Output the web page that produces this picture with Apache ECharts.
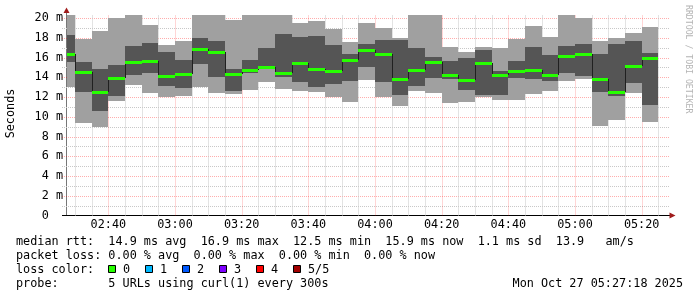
<!DOCTYPE html>
<html><head><meta charset="utf-8">
<script src="https://cdn.jsdelivr.net/npm/echarts@6/dist/echarts.min.js"></script>
<style>html,body{margin:0;padding:0;background:#fff}#c{width:697px;height:297px}</style>
</head><body><div id="c"></div>
<script>
// ---- data (ms), one entry per 5-minute step; slotEnd = end time of the step
const slotEnd = ['02:30','02:35','02:40','02:45','02:50','02:55','03:00','03:05','03:10','03:15',
  '03:20','03:25','03:30','03:35','03:40','03:45','03:50','03:55','04:00','04:05',
  '04:10','04:15','04:20','04:25','04:30','04:35','04:40','04:45','04:50','04:55',
  '05:00','05:05','05:10','05:15','05:20','05:25'];
const pingMax = [20.3,17.87,18.68,20.0,20.3,19.3,17.27,17.7,20.3,20.3,
  19.8,20.3,20.3,20.3,19.5,19.7,18.9,17.57,19.47,19.0,
  18.0,20.3,20.3,17.1,16.6,17.1,17.0,17.87,19.14,18.08,
  20.3,20.0,17.67,17.97,18.48,19.1];
const pingUpper = [18.28,15.58,14.84,15.24,17.16,17.5,16.6,15.75,17.97,17.67,
  14.82,15.75,16.95,18.38,18.07,18.19,17.27,16.35,17.37,17.77,
  17.8,17.0,16.08,15.64,15.98,16.76,14.62,15.65,17.06,16.25,
  17.16,17.37,16.35,17.37,17.67,16.46];
const pingMedian = [16.4,14.56,12.5,13.92,15.58,15.68,14.13,14.33,16.9,16.6,
  14.35,14.74,15.06,14.4,15.41,14.84,14.6,15.7,16.76,16.32,
  13.87,14.7,15.51,14.23,13.72,15.48,14.26,14.6,14.7,14.2,
  16.12,16.36,13.8,12.54,15.14,15.96];
const pingLower = [15.58,12.54,10.62,12.1,14.23,14.4,13.1,12.9,15.34,13.98,
  12.62,14.4,14.83,14.06,13.55,12.98,13.3,13.63,15.07,13.55,
  12.2,13.1,13.9,13.86,12.7,12.2,12.2,13.96,13.82,13.6,
  14.43,14.13,12.52,12.1,13.43,11.19];
const pingMin = [13.04,9.4,9.0,11.63,13.2,12.44,12.03,12.1,12.98,12.42,
  12.3,12.68,13.55,12.81,12.62,12.5,12.0,11.52,13.72,11.95,
  11.1,12.64,12.37,11.43,11.53,12.0,11.7,11.7,12.32,12.64,
  13.65,13.85,9.08,9.7,12.4,9.5];
const xTickLabels = ['02:40','03:00','03:20','03:40','04:00','04:20','04:40','05:00','05:20'];
const yTickValues = [0,2,4,6,8,10,12,14,16,18,20];
const yGridValues = [1,2,3,4,5,6,7,8,9,10,11,12,13,14,15,16,17,18,19,20];
const viewStart = '02:27:18', viewEnd = '05:27:18';
const stepMinutes = 5;
const lossColors = ['#26ff00','#00b8ff','#0059ff','#7e00ff','#ff0000','#a10000'];
const lossLabels = ['0','1','2','3','4','5/5'];
const legendLines = [
  'median rtt:  14.9 ms avg  16.9 ms max  12.5 ms min  15.9 ms now  1.1 ms sd  13.9   am/s',
  'packet loss: 0.00 % avg  0.00 % max  0.00 % min  0.00 % now',
  'loss color:',
  'probe:       5 URLs using curl(1) every 300s'
];
const dateText = 'Mon Oct 27 05:27:18 2025';

// ---- helpers
function toMin(s){const p=s.split(':').map(Number);return p[0]*60+p[1]+(p[2]||0)/60;}
function fmtMin(v){const t=Math.round(v);const h=Math.floor(t/60),m=t%60;return (h<10?'0':'')+h+':'+(m<10?'0':'')+m;}
const MONO='DejaVu Sans Mono';
const FS=11.8;
const LIGHT='#a0a0a0', DARK='#555555';
const MGRID='rgba(255,0,0,0.32)', GRID='#c8c8c8';

const smokeData = slotEnd.map((e,i)=>[toMin(e)-stepMinutes,toMin(e),pingMin[i],pingLower[i],pingUpper[i],pingMax[i]]);
const medianData = slotEnd.map((e,i)=>[toMin(e)-stepMinutes,toMin(e),pingMedian[i],i>0?pingMedian[i-1]:pingMedian[i]]);
const gridData = slotEnd.map(e=>[toMin(e)]);
const hGridData = yGridValues.map(v=>[toMin(viewStart),v]);

function leftEdge(x0, cs){return Math.max(Math.round(x0), Math.round(cs.x)+1);}

function renderSmoke(params, api){
  const cs=params.coordSys;
  const x0=api.coord([api.value(0),0])[0], x1=api.coord([api.value(1),0])[0];
  const l=leftEdge(x0,cs), r=Math.round(x1);
  const yMin=Math.round(api.coord([0,api.value(2)])[1]);
  const yLo=Math.round(api.coord([0,api.value(3)])[1]);
  const yUp=Math.round(api.coord([0,api.value(4)])[1]);
  const yMax=Math.round(api.coord([0,api.value(5)])[1]);
  return {type:'group',children:[
    {type:'rect',shape:{x:l,y:yMax,width:r-l,height:yMin-yMax},style:{fill:LIGHT}},
    {type:'rect',shape:{x:l,y:yUp,width:r-l,height:yLo-yUp},style:{fill:DARK}}
  ]};
}
function renderStep(params, api){
  const cs=params.coordSys;
  const x0=api.coord([api.value(0),0])[0];
  const l=leftEdge(x0,cs);
  const y=api.coord([0,api.value(2)])[1], yp=api.coord([0,api.value(3)])[1];
  return {type:'line',shape:{x1:l+0.5,y1:Math.round(yp),x2:l+0.5,y2:Math.round(y)},style:{stroke:'#202020',lineWidth:1}};
}
function renderMedian(params, api){
  const cs=params.coordSys;
  const x0=api.coord([api.value(0),0])[0], x1=api.coord([api.value(1),0])[0];
  const l=leftEdge(x0,cs), r=Math.round(x1);
  const y=Math.round(api.coord([0,api.value(2)])[1]);
  return {type:'rect',shape:{x:l,y:y-1,width:r-l,height:3},style:{fill:lossColors[0]}};
}
function renderGrid(params, api){
  const cs=params.coordSys;
  const t=api.value(0);
  const x=Math.round(api.coord([t,0])[0])+0.5;
  const major = Math.round(t)%20===0;
  return {type:'line',shape:{x1:x,y1:cs.y+cs.height,x2:x,y2:cs.y-3},
    style:{stroke:major?MGRID:GRID,lineWidth:1,lineDash:[1,1]}};
}
function renderHGrid(params, api){
  const cs=params.coordSys;
  const v=api.value(1);
  const y=Math.round(api.coord([api.value(0),v])[1])+0.5;
  const major = v%2===0;
  return {type:'line',shape:{x1:cs.x-4,y1:y,x2:cs.x+cs.width+3,y2:y},
    style:{stroke:major?MGRID:GRID,lineWidth:1,lineDash:[1,1]}};
}

const graphics=[];
legendLines.forEach((t,i)=>{
  graphics.push({type:'text',x:16,y:241.5+i*14,style:{text:t,font:FS+'px "'+MONO+'"',fill:'#000',align:'left',verticalAlign:'middle',textAlign:'left',textVerticalAlign:'middle'}});
});
lossColors.forEach((c,i)=>{
  const bx=108.5+i*37;
  graphics.push({type:'rect',shape:{x:bx,y:265.5,width:7,height:7},style:{fill:c,stroke:'#000',lineWidth:1}});
  graphics.push({type:'text',x:bx+14.5,y:269.5,style:{text:lossLabels[i],font:FS+'px "'+MONO+'"',fill:'#000',align:'left',verticalAlign:'middle',textAlign:'left',textVerticalAlign:'middle'}});
});
graphics.push({type:'text',x:683,y:283.5,style:{text:dateText,font:FS+'px "'+MONO+'"',fill:'#000',align:'right',verticalAlign:'middle',textAlign:'right',textVerticalAlign:'middle'}});
graphics.push({type:'text',x:11,y:113.5,rotation:Math.PI/2,style:{text:'Seconds',font:FS+'px "'+MONO+'"',fill:'#000',align:'center',verticalAlign:'middle',textAlign:'center',textVerticalAlign:'middle'}});
graphics.push({type:'text',x:688,y:5,rotation:-Math.PI/2,style:{text:'RRDTOOL / TOBI OETIKER',font:'8.2px "'+MONO+'"',fill:'#b4b4b4',align:'left',verticalAlign:'middle',textAlign:'left',textVerticalAlign:'middle'}});
// axis extensions + arrows (decoration)
graphics.push({type:'line',shape:{x1:66.5,y1:18,x2:66.5,y2:12},style:{stroke:'#777',lineWidth:1}});
graphics.push({type:'line',shape:{x1:62,y1:215.5,x2:66,y2:215.5},style:{stroke:'#000',lineWidth:1}});
graphics.push({type:'line',shape:{x1:666,y1:215.5,x2:670,y2:215.5},style:{stroke:'#000',lineWidth:1}});
graphics.push({type:'polygon',shape:{points:[[66.5,7.5],[63.5,13],[69.5,13]]},style:{fill:'#a01c1c'}});
graphics.push({type:'polygon',shape:{points:[[675.5,215.5],[669.5,212.5],[669.5,218.5]]},style:{fill:'#a01c1c'}});

const chart=echarts.init(document.getElementById('c'),null,{renderer:'canvas'});
chart.setOption({
  animation:false,
  backgroundColor:'#fff',
  grid:{left:66,right:31,top:18,bottom:81.5},
  xAxis:{type:'value',min:toMin(viewStart),max:toMin(viewEnd),
    splitLine:{show:false},axisTick:{show:false},
    axisLine:{show:true,lineStyle:{color:'#000',width:1}},
    axisLabel:{customValues:xTickLabels.map(toMin),formatter:fmtMin,margin:3,color:'#000',fontFamily:MONO,fontSize:FS,hideOverlap:false}},
  yAxis:{type:'value',min:0,max:20,interval:2,
    axisLine:{show:true,lineStyle:{color:'#777',width:1}},
    axisTick:{show:false},
    splitLine:{show:false},
    axisLabel:{margin:3,color:'#000',fontFamily:MONO,fontSize:FS,
      formatter:v=>yTickValues.indexOf(v)<0?'':(v===0?'0  ':v+' m')}},
  graphic:graphics,
  series:[
    {type:'custom',name:'hgrid',z:1,silent:true,renderItem:renderHGrid,data:hGridData,clip:false},
    {type:'custom',name:'grid',z:1,silent:true,renderItem:renderGrid,data:gridData,clip:false},
    {type:'custom',name:'smoke',z:2,renderItem:renderSmoke,data:smokeData,clip:false,encode:{x:[0,1],y:[2,5]}},
    {type:'custom',name:'step',z:3,renderItem:renderStep,data:medianData,clip:false,encode:{x:[0,1],y:[2,3]}},
    {type:'custom',name:'median',z:4,renderItem:renderMedian,data:medianData,clip:false,encode:{x:[0,1],y:2}}
  ]
});
</script></body></html>
